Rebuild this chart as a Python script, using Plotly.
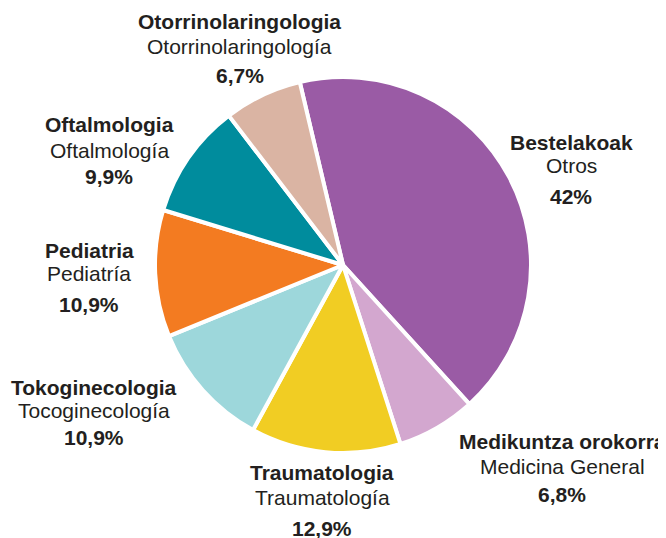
import plotly.graph_objects as go

# data
labels_eu = ["Bestelakoak", "Medikuntza orokorra", "Traumatologia", "Tokoginecologia",
             "Pediatria", "Oftalmologia", "Otorrinolaringologia"]
labels_es = ["Otros", "Medicina General", "Traumatología", "Tocoginecología",
             "Pediatría", "Oftalmología", "Otorrinolaringología"]
values = [42, 6.8, 12.9, 10.9, 10.9, 9.9, 6.7]
pct_text = ["42%", "6,8%", "12,9%", "10,9%", "10,9%", "9,9%", "6,7%"]
colors = ["#9A5BA5", "#D3A7CF", "#F1CD23", "#9DD7DB", "#F37B21", "#008C9D", "#DAB4A3"]

W, H = 666, 538
OFF = 8  # page body margin offset
cx, cy, r = 343 - OFF, 265 - OFF, 188

fig = go.Figure(go.Pie(
    labels=labels_eu,
    values=values,
    sort=False,
    direction="clockwise",
    rotation=-13.3,
    marker=dict(colors=colors, line=dict(color="white", width=4)),
    textinfo="none",
    hoverinfo="label+percent",
    showlegend=False,
    domain=dict(x=[(cx - r) / W, (cx + r) / W], y=[(H - cy - r) / H, (H - cy + r) / H]),
))

# label placement (pixel centres of the three lines)
label_pos = [
    (571, [142, 166, 197]),
    (562, [441, 466, 494]),
    (322, [472, 497, 528]),
    (94, [387, 410, 437]),
    (89, [250, 273, 305]),
    (109, [125, 150, 176]),
    (240, [22, 47, 76]),
]

txt_color = "#231F20"
for i, (x, ys) in enumerate(label_pos):
    lines = ["<b>%s</b>" % labels_eu[i], labels_es[i], "<b>%s</b>" % pct_text[i]]
    for line, y in zip(lines, ys):
        fig.add_annotation(
            x=(x - OFF) / W, y=1 - (y - OFF) / H, xref="paper", yref="paper",
            text=line, showarrow=False, xanchor="center", yanchor="middle",
            font=dict(size=21, color=txt_color, family="Liberation Sans, Arial, sans-serif"),
        )

fig.update_layout(
    width=W, height=H,
    margin=dict(l=0, r=0, t=0, b=0),
    paper_bgcolor="white",
    plot_bgcolor="white",
)

fig.write_html("out.html")
